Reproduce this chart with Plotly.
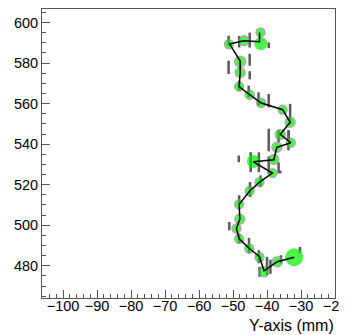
import plotly.graph_objects as go

# Track points (x = Y-axis mm, y = Z mm) and marker sizes
pt_x = [-32.0, -37.0, -40.9, -42.2, -45.2, -48.2, -49.0, -48.0, -48.2, -45.1,
        -42.2, -38.4, -44.0, -38.0, -37.1, -33.0, -36.1, -33.2, -35.4, -41.7,
        -45.1, -48.2, -47.9, -47.9, -51.2, -46.8, -41.8, -41.9]
pt_y = [484.2, 482.0, 477.0, 484.2, 488.5, 493.3, 498.4, 503.0, 510.3, 516.9,
        521.3, 525.7, 531.5, 532.5, 538.5, 540.7, 544.8, 550.8, 557.0, 560.3,
        564.4, 568.4, 575.4, 580.7, 589.3, 591.0, 589.6, 595.1]
pt_size = [18, 10, 10, 9, 9, 9, 9, 10, 9, 9,
           9, 9, 13, 10, 10, 9, 10, 10, 9, 9,
           9, 9, 10, 11, 9, 10, 13, 9]
big = [18, 13]

# Line path vertices
line_x = [-32.0, -37.0, -40.9, -42.2, -45.2, -48.2, -49.0, -48.0, -48.2, -45.1,
          -42.2, -38.4, -44.0, -38.0, -37.1, -33.0, -36.1, -33.2, -35.4, -41.7,
          -45.1, -48.2, -47.9, -47.9, -51.0, -46.8, -42.2, -42.2]
line_y = [484.2, 482.0, 477.5, 484.5, 488.5, 493.3, 498.4, 503.0, 510.3, 516.9,
          521.3, 525.7, 531.3, 532.3, 538.5, 540.7, 544.8, 550.8, 557.0, 560.3,
          564.4, 568.4, 575.4, 581.0, 589.4, 591.0, 590.6, 595.1]

# Gray hit dashes (x, y0, y1)
seg_x = [-51.3, -51.3, -48.2, -45.1, -45.1, -45.1, -39.5,
         -48.2, -45.4, -42.5, -39.5, -33.2, -33.6,
         -39.5, -39.5, -36.6, -36.6, -33.7, -33.7, -48.3, -44.8, -42.4,
         -41.9, -45.0, -48.2, -51.1, -36.1,
         -48.2, -45.3, -42.4, -42.2, -40.0, -39.0, -35.9, -30.3]
seg_y0 = [588.5, 574.6, 587.7, 587.7, 578.7, 572.0, 587.4,
          566.4, 563.1, 559.0, 558.2, 550.0, 541.8,
          536.5, 525.6, 541.0, 525.6, 542.0, 537.0, 531.1, 526.2, 526.2,
          518.8, 513.9, 510.8, 497.5, 525.6,
          491.0, 486.2, 481.2, 474.6, 475.4, 476.0, 481.2, 486.1]
seg_y1 = [593.5, 581.2, 593.4, 595.0, 584.6, 576.0, 590.2,
          571.3, 568.9, 565.6, 564.8, 559.9, 546.7,
          547.6, 534.0, 547.0, 531.0, 547.0, 540.0, 534.4, 536.0, 536.0,
          524.6, 521.3, 514.8, 501.6, 527.0,
          495.9, 493.8, 487.7, 479.5, 484.4, 483.0, 485.2, 489.3]

x_ticks = [-100, -90, -80, -70, -60, -50, -40, -30, -20]
y_ticks = [480, 500, 520, 540, 560, 580, 600]

fig = go.Figure()

for sx, a, b in zip(seg_x, seg_y0, seg_y1):
    fig.add_trace(go.Scatter(x=[sx, sx], y=[a, b], mode="lines",
                             line=dict(color="#5a5a5a", width=2.5),
                             hoverinfo="skip", showlegend=False))

fig.add_trace(go.Scatter(
    x=pt_x, y=pt_y, mode="markers",
    marker=dict(size=pt_size, color="#00f000",
                line=dict(color=["rgba(0,0,0,0)" if s in big else "#8a8a8a" for s in pt_size],
                          width=1.4)),
    showlegend=False))

fig.add_trace(go.Scatter(x=line_x, y=line_y, mode="lines",
                         line=dict(color="black", width=1.5), showlegend=False))

axis_common = dict(showline=True, linecolor="#555555", linewidth=1, mirror=True,
                   showgrid=False, zeroline=False, ticks="inside",
                   tickcolor="#555555", ticklen=8, tickwidth=1,
                   ticklabeloverflow="allow",
                   tickfont=dict(family="Liberation Sans, Arial, sans-serif", size=14.5, color="black"))

fig.update_xaxes(range=[-106.2, -20], tickvals=x_ticks, ticklabelstandoff=-5,
                 minor=dict(ticks="inside", ticklen=4, dtick=2, tick0=-100, tickcolor="#555555"),
                 **axis_common)
fig.update_yaxes(range=[464.1, 606.7], tickvals=y_ticks,
                 minor=dict(ticks="inside", ticklen=4, dtick=5, tick0=480, tickcolor="#555555"),
                 **axis_common)

fig.add_annotation(text="Y-axis (mm)", xref="paper", yref="paper", x=1.004, y=-0.0966,
                   xanchor="right", yanchor="middle", showarrow=False,
                   font=dict(family="Liberation Sans, Arial, sans-serif", size=16, color="black"))

# The page body keeps an 8px default margin, so the figure is sized to the visible area
fig.update_layout(width=339, height=327, margin=dict(l=34, r=8, t=0, b=37),
                  paper_bgcolor="white", plot_bgcolor="white")

fig.write_html("out.html")
